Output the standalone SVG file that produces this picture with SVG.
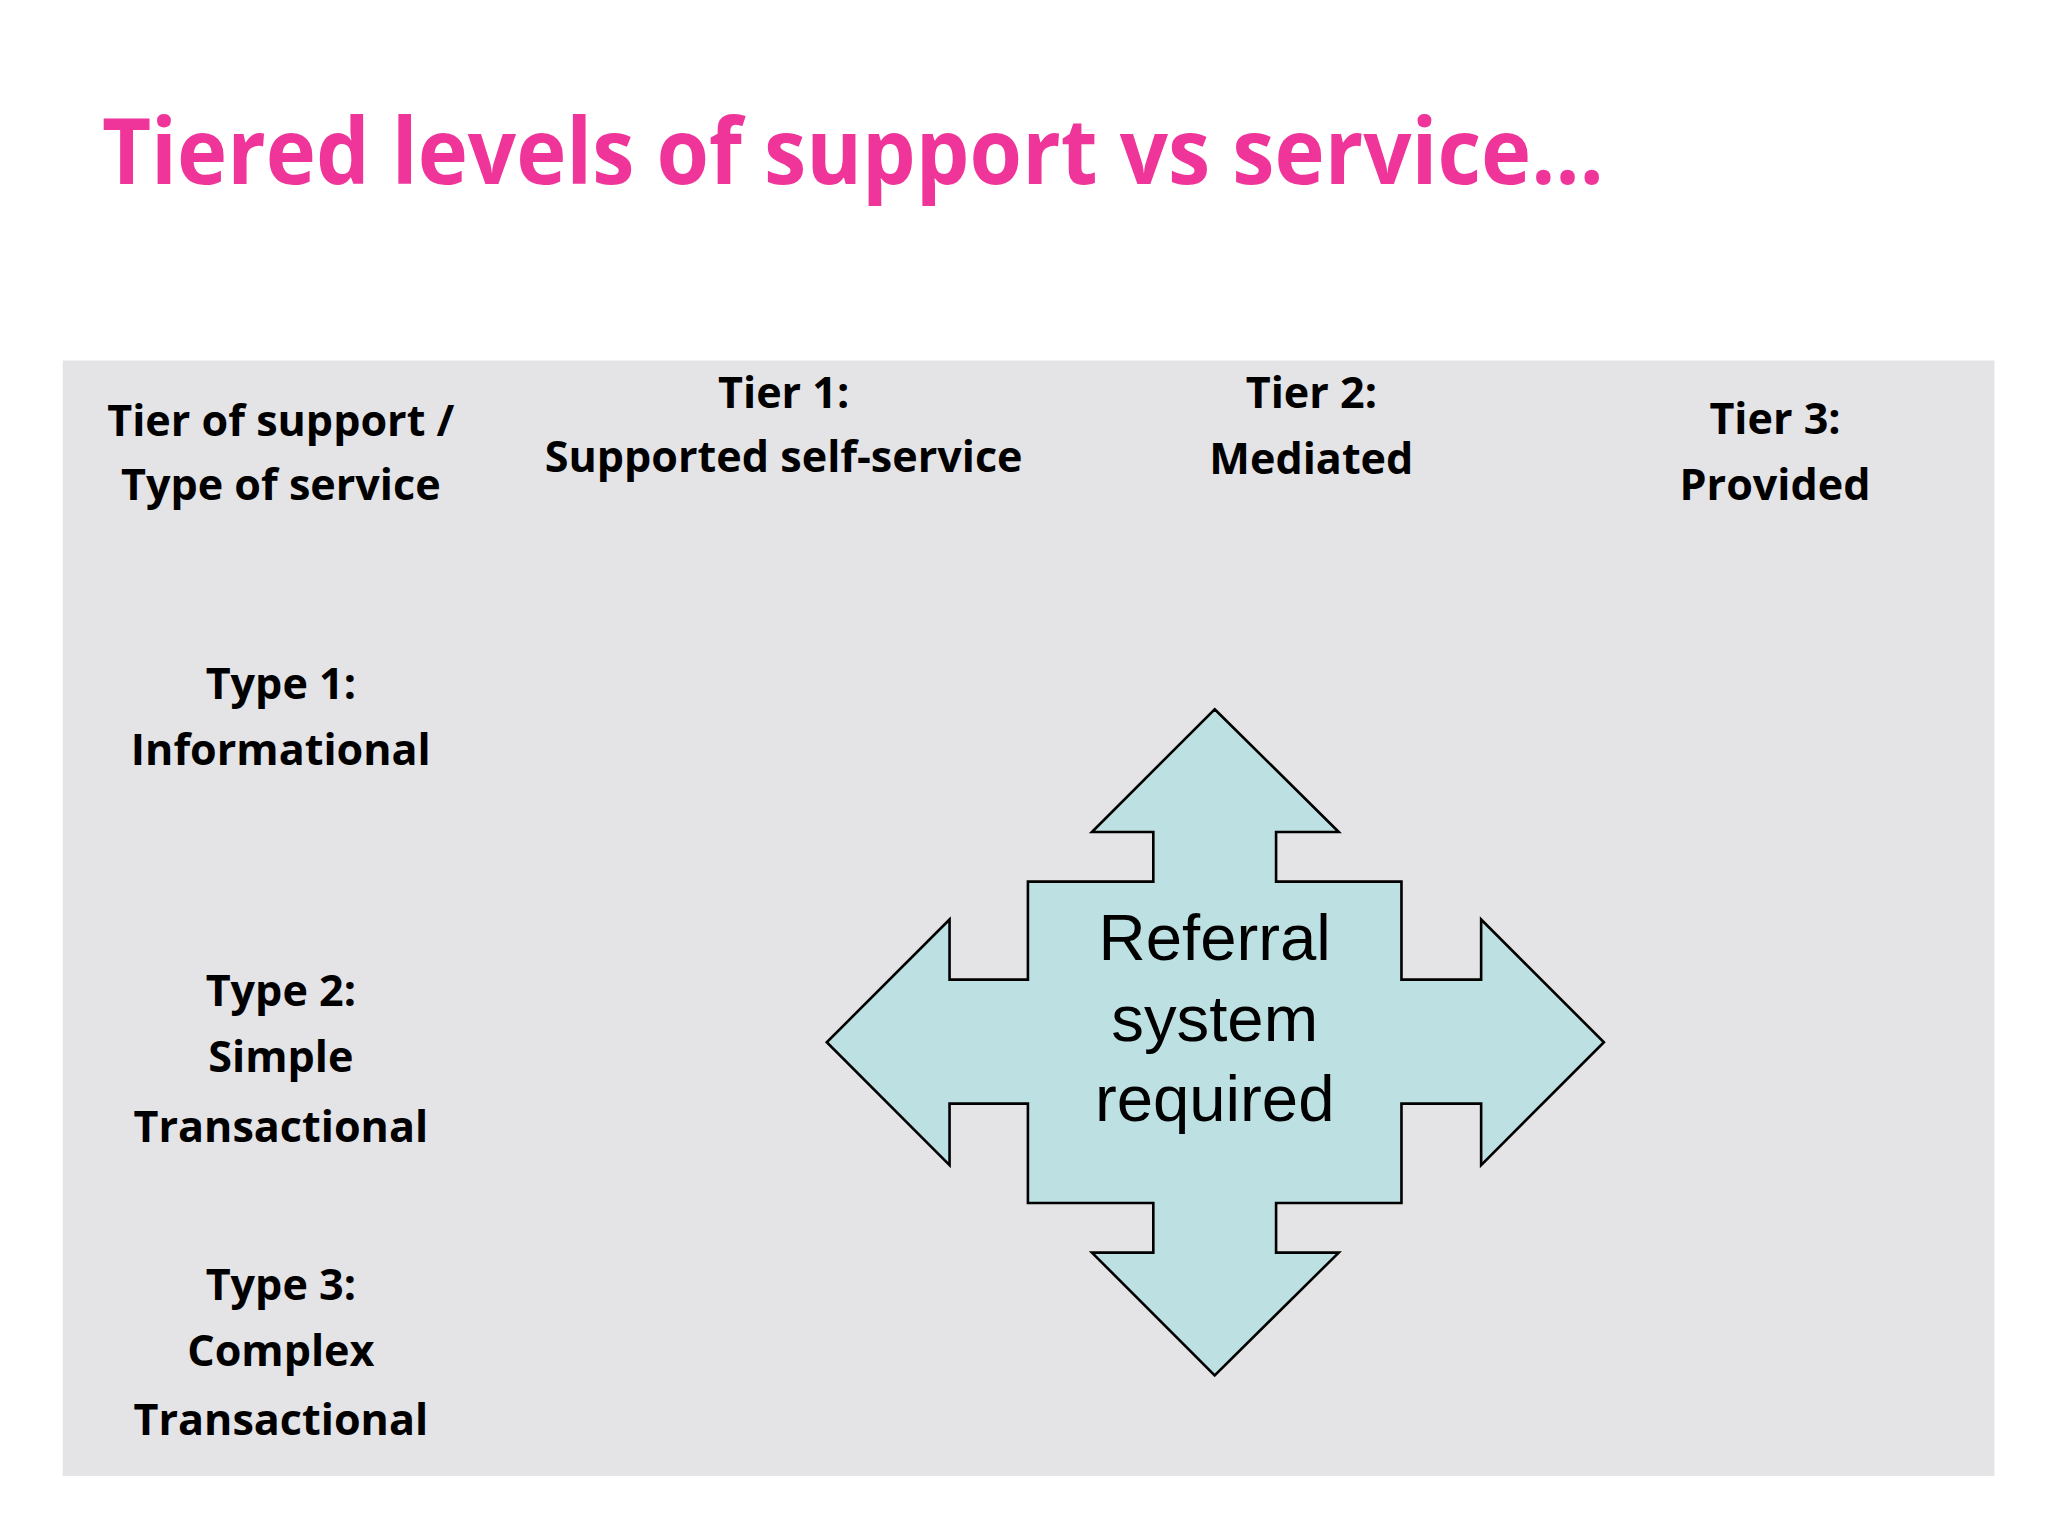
<svg xmlns="http://www.w3.org/2000/svg" width="2048" height="1536" viewBox="0 0 2048 1536">
<style>
.h{font-family:"Open Sans","Liberation Sans",sans-serif;font-weight:bold;font-size:33px;fill:#000;text-anchor:middle}
.c{font-family:"Liberation Sans",Arial,sans-serif;font-size:50px;fill:#000;text-anchor:middle}
</style>
<rect width="2048" height="1536" fill="#ffffff"/>
<g transform="scale(1.30612)">
<text x="78" y="141" font-family="Open Sans, Liberation Sans, sans-serif" font-weight="bold" font-size="70" fill="#f0359a" textLength="1150" lengthAdjust="spacingAndGlyphs">Tiered levels of support vs service…</text>
<rect x="48" y="276" width="1479" height="854" fill="#e4e3e6"/>
<g id="headers">
<text class="h" x="215" y="334">Tier of support /</text>
<text class="h" x="215" y="383">Type of service</text>
<text class="h" x="600" y="312">Tier 1:</text>
<text class="h" x="600" y="361">Supported self-service</text>
<text class="h" x="1004" y="312">Tier 2:</text>
<text class="h" x="1004" y="363">Mediated</text>
<text class="h" x="1359" y="332">Tier 3:</text>
<text class="h" x="1359" y="383">Provided</text>
</g>
<g id="rows">
<text class="h" x="215" y="535">Type 1:</text>
<text class="h" x="215" y="586">Informational</text>
<text class="h" x="215" y="770">Type 2:</text>
<text class="h" x="215" y="821">Simple</text>
<text class="h" x="215" y="874">Transactional</text>
<text class="h" x="215" y="995">Type 3:</text>
<text class="h" x="215" y="1046">Complex</text>
<text class="h" x="215" y="1099">Transactional</text>
</g>
<g id="referral">
<path d="M930,543 L1025,637 L977,637 L977,675 L1073,675 L1073,750 L1134,750 L1134,704 L1228,798 L1134,892 L1134,845 L1073,845 L1073,921 L977,921 L977,959 L1025,959 L930,1053 L836,959 L883,959 L883,921 L787,921 L787,845 L727,845 L727,892 L633,798 L727,704 L727,750 L787,750 L787,675 L883,675 L883,637 L836,637 Z" fill="#bde0e2" stroke="#000" stroke-width="2"/>
<text class="c" x="930" y="735">Referral</text>
<text class="c" x="930" y="797">system</text>
<text class="c" x="930" y="858">required</text>
</g>
<g id="connectors"/>
</g>
</svg>
